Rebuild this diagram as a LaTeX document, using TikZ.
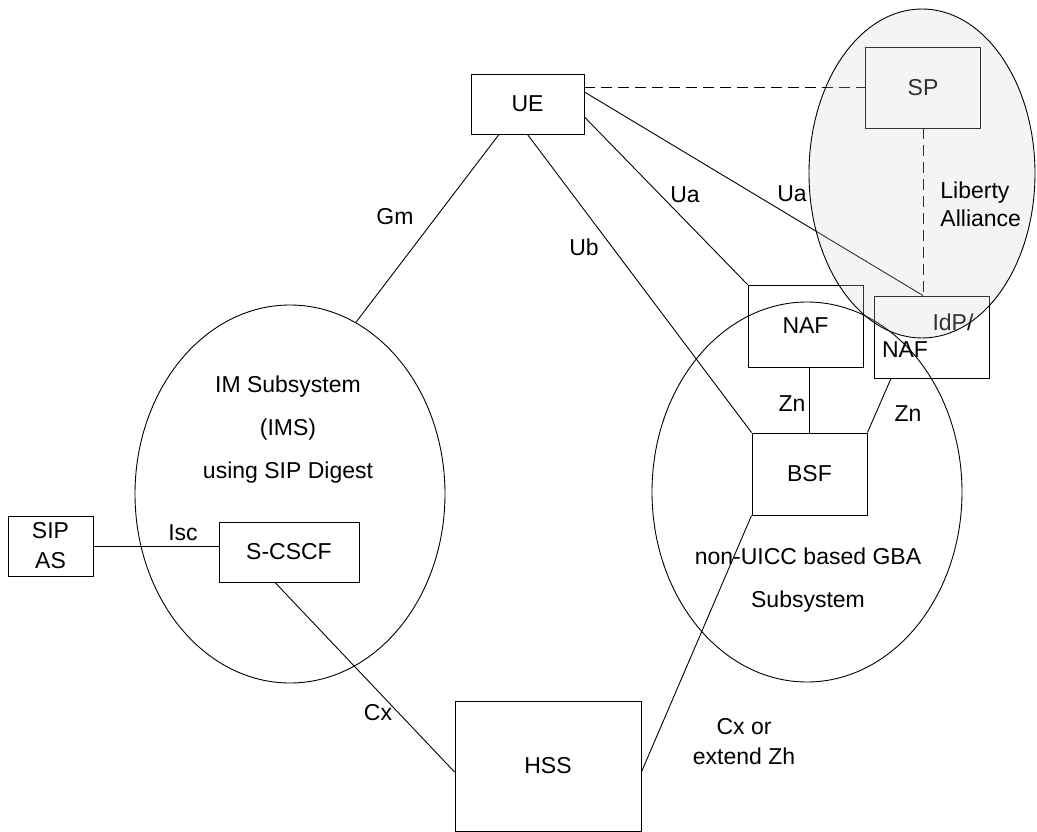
\documentclass[tikz,border=0pt]{standalone}
\usepackage{fontspec}
\setmainfont{Liberation Sans}
\usetikzlibrary{shapes.geometric}

\begin{document}
\begin{tikzpicture}[x=1pt, y=-1pt, line width=0.9pt,
  every node/.style={font=\fontsize{23}{28}\selectfont},
  netbox/.style={draw, inner sep=0pt},
  zone/.style={draw, ellipse, inner sep=0pt},
  lbl/.style={inner sep=0pt},
  iface/.style={dashed, dash pattern=on 11pt off 6pt}]
\useasboundingbox (0,0) rectangle (1037,832);

% network elements
\node[netbox, minimum width=113, minimum height=60] (ue) at (527.5,104) {UE};
\node[netbox, minimum width=115, minimum height=81] (sp) at (923,87.5) {SP};
\node[netbox, minimum width=115, minimum height=82] (naf) at (805.5,326) {NAF};
\node[netbox, minimum width=115, minimum height=82] (idp) at (931.5,337) {};
\node[lbl] at (953,322) {IdP/};
\node[lbl] at (905,350) {NAF};
\node[netbox, minimum width=115, minimum height=82] (bsf) at (809.5,474) {BSF};
\node[netbox, minimum width=140, minimum height=60] (scscf) at (289,552) {S-CSCF};
\node[netbox, minimum width=85, minimum height=60, align=center, font=\fontsize{23}{30}\selectfont] (sipas) at (50.5,546) {SIP\\AS};
\node[netbox, minimum width=186, minimum height=130] (hss) at (548,766) {HSS};

% subsystems
\node[zone, minimum width=310, minimum height=378] (ims) at (290,494) {};
\node[zone, minimum width=310, minimum height=380] (gba) at (807,492) {};
\node[lbl, align=center, font=\fontsize{23}{43}\selectfont] at (288,430) {IM Subsystem\\(IMS)\\using SIP Digest};
\node[lbl, align=center, font=\fontsize{23}{43}\selectfont] at (808,580.5) {non-UICC based GBA\\Subsystem};

% reference points
\draw[iface] (sp.west -| ue.east) -- (sp.west);
\draw[iface] (sp.south) -- (sp.south |- idp.north);
\draw ([yshift=12pt]ue.east) -- (sp.south |- idp.north);
\draw ([yshift=-13pt]ue.east) -- (naf.north west);
\draw (ue.south) -- (bsf.north west);
\draw ([xshift=-28.5pt]ue.south) -- (ims.69.5);
\draw (bsf.north) -- (bsf.north |- naf.south);
\draw ([xshift=-40.5pt]idp.south) -- (bsf.north east);
\draw (sipas.east) -- (sipas.east -| scscf.west);
\draw ([xshift=-14pt]scscf.south) -- ([yshift=-6pt]hss.west);
\draw ([yshift=-6pt]hss.east) -- (bsf.south west);

\node[lbl] at (395,217) {Gm};
\node[lbl] at (685,195) {Ua};
\node[lbl] at (792,194) {Ua};
\node[lbl] at (584,247) {Ub};
\node[lbl] at (792,404) {Zn};
\node[lbl] at (908,414) {Zn};
\node[lbl] at (183,533) {Isc};
\node[lbl] at (378,713) {Cx};
\node[lbl, align=center, font=\fontsize{23}{30}\selectfont] at (744,742) {Cx or\\extend Zh};

% Liberty Alliance domain on top
\node[zone, minimum width=226, minimum height=329, fill=black!19, fill opacity=0.24] (lib) at (922,173.5) {};
\node[lbl, align=left, anchor=west] at (940,204) {Liberty\\Alliance};
\end{tikzpicture}
\end{document}
